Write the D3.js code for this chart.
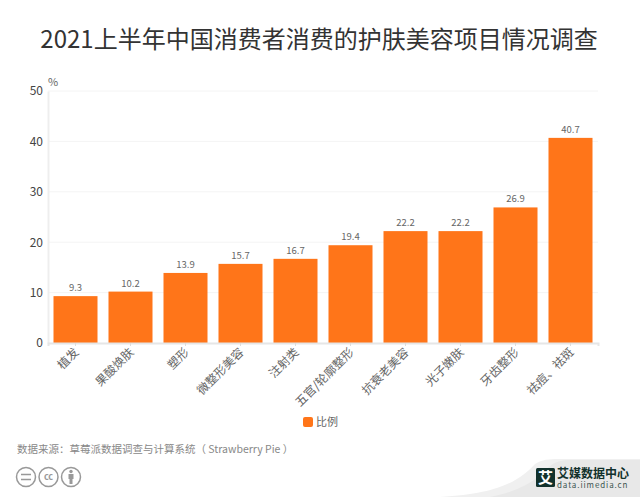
<html>
  <head>
    <meta charset="utf-8">
    <script src="https://d3js.org/d3.v7.min.js"></script>
    <style>
      html, body { margin: 0; padding: 0; background: #fff; overflow: hidden; }
      text { font-family: "Noto Sans CJK SC", "Open Sans", sans-serif; }
    </style>
  </head>
  <body>
    <div id="chart"></div>
    <script>
      const categories = ["植发", "果酸焕肤", "塑形", "微整形美容", "注射类", "五官/轮廓整形", "抗衰老美容", "光子嫩肤", "牙齿整形", "祛痘、祛斑"];
      const values = [9.3, 10.2, 13.9, 15.7, 16.7, 19.4, 22.2, 22.2, 26.9, 40.7];
      const yTicks = [0, 10, 20, 30, 40, 50];

      const width = 640;
      const height = 497;
      const margin = ({top: 91, right: 42, bottom: 154, left: 48});

      const svg = d3.create('svg')
        .attr('width', width)
        .attr('height', height)
        .style('display', 'block');

      const xScale = d3.scaleBand()
        .domain(categories)
        .range([margin.left, width - margin.right])
        .paddingInner(0.2)
        .paddingOuter(0.1);

      const yScale = d3.scaleLinear()
        .domain([0, 50])
        .range([height - margin.bottom, margin.top]);

      // title
      svg.append('text')
        .attr('x', 319)
        .attr('y', 48)
        .attr('text-anchor', 'middle')
        .attr('font-size', '24px')
        .attr('fill', '#333')
        .text('2021上半年中国消费者消费的护肤美容项目情况调查');

      // grid lines
      svg.append('g')
        .selectAll('line')
        .data(yTicks.filter(d => d > 0))
        .join('line')
        .attr('x1', margin.left)
        .attr('x2', width - margin.right)
        .attr('y1', d => yScale(d))
        .attr('y2', d => yScale(d))
        .attr('stroke', '#f4f4f4')
        .attr('stroke-width', 1);

      // y axis
      const yAxis = svg.append('g')
        .attr('transform', `translate(${margin.left}, 0)`)
        .call(d3.axisLeft(yScale).tickValues(yTicks).tickSize(0).tickPadding(5));
      yAxis.select('.domain').attr('stroke', '#eee').attr('stroke-width', 2);
      yAxis.selectAll('text')
        .attr('font-family', '"Open Sans", sans-serif')
        .attr('font-size', '12px')
        .attr('fill', '#444');

      svg.append('text')
        .attr('x', 48)
        .attr('y', 86)
        .attr('font-family', '"Open Sans", sans-serif')
        .attr('font-size', '11px')
        .attr('fill', '#666')
        .text('%');

      // bars
      svg.append('g')
        .selectAll('rect')
        .data(values)
        .join('rect')
        .attr('x', (d, i) => xScale(categories[i]))
        .attr('y', d => yScale(d))
        .attr('width', xScale.bandwidth())
        .attr('height', d => yScale(0) - yScale(d))
        .attr('fill', '#ff7519');

      // value labels
      svg.append('g')
        .selectAll('text')
        .data(values)
        .join('text')
        .attr('x', (d, i) => xScale(categories[i]) + xScale.bandwidth() / 2)
        .attr('y', d => yScale(d) - 5)
        .attr('text-anchor', 'middle')
        .attr('font-family', '"Open Sans", sans-serif')
        .attr('font-size', '9.5px')
        .attr('fill', '#666')
        .text(d => d.toFixed(1));

      // x axis
      const xAxis = svg.append('g')
        .attr('transform', `translate(0, ${height - margin.bottom})`)
        .call(d3.axisBottom(xScale).tickSize(3).tickPadding(5));
      xAxis.select('.domain').attr('stroke', '#e6e6e6').attr('stroke-width', 2);
      xAxis.selectAll('line').attr('stroke', '#ddd');
      xAxis.selectAll('text')
        .attr('font-size', '12px')
        .attr('fill', '#666')
        .attr('text-anchor', 'end')
        .attr('dy', 0)
        .attr('y', 0)
        .attr('transform', 'translate(4, 10) rotate(-45)');

      // legend
      svg.append('rect')
        .attr('x', 303)
        .attr('y', 417)
        .attr('width', 10)
        .attr('height', 10)
        .attr('rx', 2)
        .attr('fill', '#ff7519');
      svg.append('text')
        .attr('x', 316)
        .attr('y', 426)
        .attr('font-size', '11px')
        .attr('fill', '#666')
        .text('比例');

      // source
      svg.append('text')
        .attr('x', 17)
        .attr('y', 453)
        .attr('font-size', '10.5px')
        .attr('fill', '#888')
        .text('数据来源：草莓派数据调查与计算系统（ Strawberry Pie ）');

      // cc badges
      const badges = svg.append('g')
        .selectAll('g')
        .data([26, 48.5, 71])
        .join('g')
        .attr('transform', d => `translate(${d}, 477)`);
      badges.append('circle')
        .attr('r', 9.5)
        .attr('fill', '#fff')
        .attr('stroke', '#999')
        .attr('stroke-width', 1.5);
      svg.append('path')
        .attr('d', 'M21 474.5H31M21 479.5H31')
        .attr('stroke', '#999')
        .attr('stroke-width', 1.5);
      svg.append('text')
        .attr('x', 48.5)
        .attr('y', 480)
        .attr('text-anchor', 'middle')
        .attr('font-family', '"Open Sans", sans-serif')
        .attr('font-size', '9px')
        .attr('font-weight', 'bold')
        .attr('fill', '#999')
        .text('cc');
      svg.append('circle').attr('cx', 71).attr('cy', 471.5).attr('r', 1.7).attr('fill', '#999');
      svg.append('path')
        .attr('d', 'M68.5 474H73.5V479H72.5V484H69.5V479H68.5Z')
        .attr('fill', '#999');

      // watermark
      svg.append('path')
        .attr('d', 'M440 497C500 494 520 480 535 464C545 458 552 459 570 459H640V497Z')
        .attr('fill', '#f0f0f0');
      svg.append('path')
        .attr('d', 'M490 497C530 490 545 470 550 466C558 460 565 460 575 460H640V497Z')
        .attr('fill', '#e8e8e8');
      svg.append('rect')
        .attr('x', 536)
        .attr('y', 468)
        .attr('width', 19)
        .attr('height', 19)
        .attr('rx', 1.5)
        .attr('fill', '#12312c');
      svg.append('text')
        .attr('x', 545.5)
        .attr('y', 483)
        .attr('text-anchor', 'middle')
        .attr('font-size', '15px')
        .attr('font-weight', 'bold')
        .attr('fill', '#fff')
        .text('艾');
      svg.append('text')
        .attr('x', 557)
        .attr('y', 477.5)
        .attr('font-size', '12px')
        .attr('font-weight', 'bold')
        .attr('fill', '#12312c')
        .text('艾媒数据中心');
      svg.append('text')
        .attr('x', 557)
        .attr('y', 487.5)
        .attr('font-family', '"Open Sans", sans-serif')
        .attr('font-size', '8px')
        .attr('letter-spacing', '0.9px')
        .attr('fill', '#3c5550')
        .text('data.iimedia.cn');

      document.getElementById("chart").appendChild(svg.node());
    </script>
  </body>
</html>
